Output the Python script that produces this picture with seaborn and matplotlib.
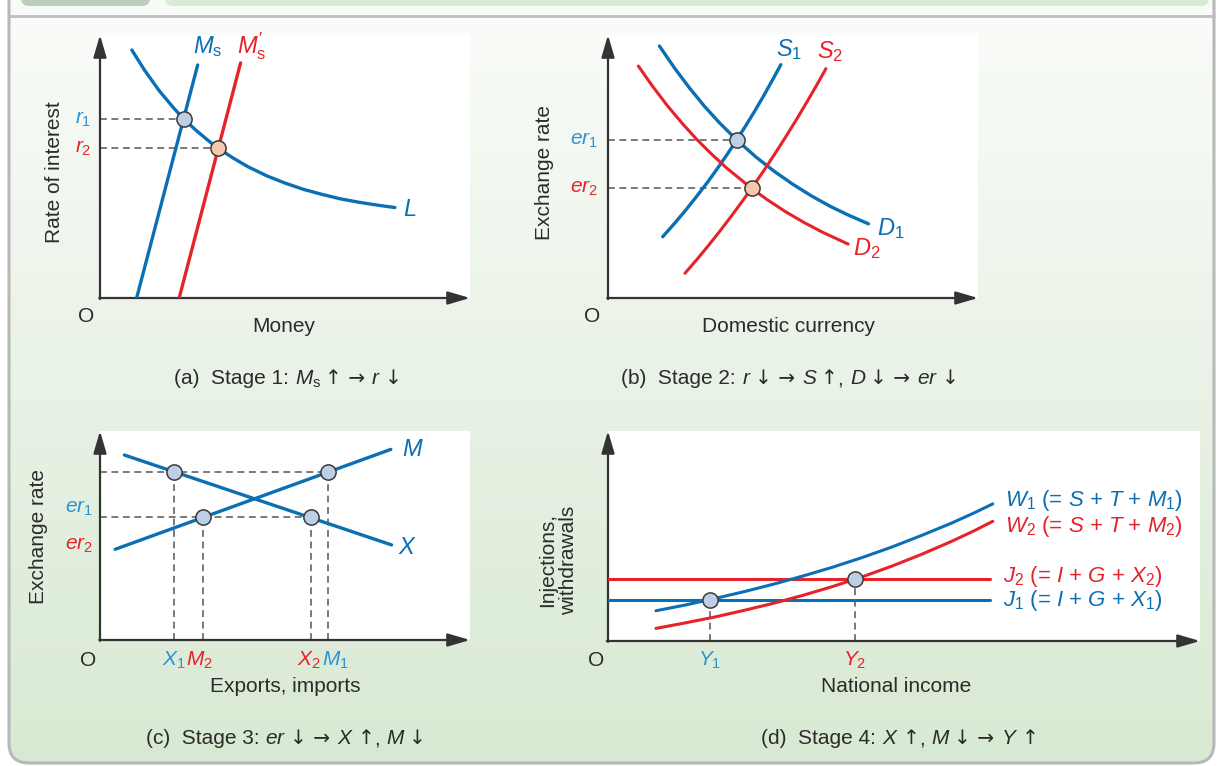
import numpy as np
import matplotlib
matplotlib.use("Agg")
import matplotlib.pyplot as plt
import seaborn as sns
from matplotlib.patches import FancyBboxPatch
from matplotlib.colors import to_rgb
from matplotlib.offsetbox import TextArea, HPacker, AnchoredOffsetbox

# ---------------- data ----------------
# (a) Stage 1: money market
a_L_x = [0.86, 1.20, 1.60, 2.00, 2.26, 2.60, 3.00, 3.20, 3.60, 4.00, 4.50, 5.00, 5.50, 6.00, 6.50, 7.00, 7.50, 7.97]
a_L_y = [9.43, 8.67, 7.88, 7.21, 6.81, 6.37, 5.90, 5.69, 5.32, 4.99, 4.65, 4.37, 4.13, 3.94, 3.77, 3.64, 3.53, 3.44]
a_Ms1_x = [0.99, 2.64]
a_Ms1_y = [0.00, 8.86]
a_Ms2_x = [2.14, 3.80]
a_Ms2_y = [0.00, 8.94]
a_eq_x = [2.26, 3.20]
a_eq_y = [6.81, 5.69]
a_tick_labels = ["$r_1$", "$r_2$"]

# (b) Stage 2: foreign exchange market
b_D1_x = [1.39, 1.80, 2.20, 2.60, 3.00, 3.48, 4.00, 4.50, 5.00, 5.50, 6.00, 6.50, 7.04]
b_D1_y = [9.58, 8.74, 7.99, 7.30, 6.68, 6.01, 5.36, 4.81, 4.32, 3.88, 3.49, 3.15, 2.82]
b_D2_x = [0.82, 1.20, 1.60, 2.00, 2.40, 2.80, 3.20, 3.88, 4.30, 4.80, 5.30, 5.80, 6.49]
b_D2_y = [8.82, 8.06, 7.32, 6.65, 6.03, 5.47, 4.95, 4.17, 3.74, 3.28, 2.87, 2.50, 2.05]
b_S1_x = [1.48, 1.80, 2.10, 2.40, 2.70, 3.00, 3.25, 3.48, 3.70, 3.95, 4.20, 4.45, 4.67]
b_S1_y = [2.33, 2.84, 3.34, 3.87, 4.42, 5.01, 5.52, 6.01, 6.50, 7.07, 7.67, 8.30, 8.87]
b_S2_x = [2.08, 2.40, 2.70, 3.00, 3.30, 3.60, 3.88, 4.20, 4.50, 4.80, 5.10, 5.40, 5.65, 5.89]
b_S2_y = [0.94, 1.46, 1.97, 2.50, 3.05, 3.62, 4.17, 4.82, 5.46, 6.12, 6.80, 7.51, 8.12, 8.72]
b_eq_x = [3.48, 3.88]
b_eq_y = [6.01, 4.17]
b_tick_labels = ["$er_1$", "$er_2$"]

# (c) Stage 3: exports and imports
c_X_x = [0.66, 7.88]
c_X_y = [8.85, 4.55]
c_M_x = [0.41, 7.86]
c_M_y = [4.34, 9.12]
c_pts_x = [2.01, 6.17, 2.78, 5.69]
c_pts_y = [8.03, 8.03, 5.87, 5.87]
c_er_labels = ["$er_1$", "$er_2$"]
c_er_label_y = [6.30, 4.55]
c_x_labels = ["$X_1$", "$M_2$", "$X_2$", "$M_1$"]
c_x_label_pos = [2.00, 2.69, 5.64, 6.36]

# (d) Stage 4: national income
d_W_x = [0.81, 1.30, 1.80, 2.30, 2.80, 3.30, 3.80, 4.30, 4.80, 5.30, 5.80, 6.20, 6.50]
d_W1_y = [1.44, 1.71, 2.02, 2.35, 2.71, 3.10, 3.52, 3.98, 4.48, 5.03, 5.61, 6.12, 6.53]
d_W2_y = [0.60, 0.86, 1.14, 1.46, 1.80, 2.18, 2.60, 3.06, 3.57, 4.13, 4.74, 5.27, 5.70]
d_J_x = [0.0, 6.45]
d_J1 = 1.97
d_J2 = 2.94
d_eq_x = [1.72, 4.17]
d_eq_y = [1.97, 2.94]
d_x_labels = ["$Y_1$", "$Y_2$"]

# captions: (text, kind) pieces; kind 'a' = arrow glyphs
TS = "\u2009"
cap_a = [("(a)  Stage 1: ", "t"), ("$M_{\\mathrm{s}}$", "t"), (TS + "\u2191 \u2192 ", "a"), ("$r$", "t"), (TS + "\u2193", "a")]
cap_b = [("(b)  Stage 2: ", "t"), ("$r$", "t"), (TS + "\u2193 \u2192 ", "a"), ("$S$", "t"), (TS + "\u2191", "a"),
         (", ", "t"), ("$D$", "t"), (TS + "\u2193 \u2192 ", "a"), ("$er$", "t"), (TS + "\u2193", "a")]
cap_c = [("(c)  Stage 3: ", "t"), ("$er$", "t"), (TS + "\u2193 \u2192 ", "a"), ("$X$", "t"), (TS + "\u2191", "a"),
         (", ", "t"), ("$M$", "t"), (TS + "\u2193", "a")]
cap_d = [("(d)  Stage 4: ", "t"), ("$X$", "t"), (TS + "\u2191", "a"), (", ", "t"), ("$M$", "t"),
         (TS + "\u2193 \u2192 ", "a"), ("$Y$", "t"), (TS + "\u2191", "a")]

# ---------------- style ----------------
sns.set_theme(style="white")
plt.rcParams['font.family'] = ['Liberation Sans', 'DejaVu Sans']
plt.rcParams.update({
    'mathtext.fontset': 'custom',
    'mathtext.rm': 'Liberation Sans',
    'mathtext.it': 'Liberation Sans:italic',
    'mathtext.bf': 'Liberation Sans:bold',
    'mathtext.sf': 'Liberation Sans',
})

BLUE = '#0b6fb3'
LBLUE = '#2d92d4'
RED = '#e6232a'
AXIS = '#333333'
DASH = '#555555'
PT_BLUE = '#bccfe6'
PT_RED = '#f6c7ad'
EDGE = '#3a3a3a'
TXT = '#2b2b2b'

W, H = 1218, 766
fig = plt.figure(figsize=(W / 100, H / 100), dpi=100)
fig.patch.set_facecolor('white')

# ---------------- background frame ----------------
bg = fig.add_axes([0, 0, 1, 1], zorder=-10)
bg.set_xlim(0, W)
bg.set_ylim(H, 0)
bg.axis('off')
top = np.array(to_rgb('#fafcf9'))
bot = np.array(to_rgb('#d8e9d3'))
t = np.linspace(0, 1, 256)[:, None, None]
grad = top * (1 - t) + bot * t
frame = FancyBboxPatch((9, -40), 1205, 803, boxstyle='round,pad=0,rounding_size=20',
                       fc='none', ec='#b8b8b8', lw=2.2, zorder=3)
bg.add_patch(frame)
im = bg.imshow(grad, extent=(0, W, H, 0), aspect='auto', zorder=0)
im.set_clip_path(frame)
bg.plot([9, 1214], [16, 16], color='#bdbdbd', lw=2.0, zorder=4)
bg.add_patch(FancyBboxPatch((21, -20), 129, 26, boxstyle='round,pad=0,rounding_size=8',
                            fc='#bccfbc', ec='none', zorder=4))
bg.add_patch(FancyBboxPatch((165, -20), 1044, 26, boxstyle='round,pad=0,rounding_size=8',
                            fc='#d8ebd5', ec='none', zorder=4))


def ftext(px, py, s, **kw):
    kw.setdefault('ha', 'center')
    kw.setdefault('va', 'center')
    return fig.text(px / W, 1 - py / H, s, **kw)


def caption(px, py, parts, fs):
    kids = []
    for s, kind in parts:
        props = dict(fontsize=fs, color=TXT)
        if kind == 'a':
            props['family'] = 'DejaVu Sans'
            props['fontsize'] = fs - 0.5
        kids.append(TextArea(s, textprops=props))
    box = HPacker(children=kids, align='baseline', pad=0, sep=0)
    ab = AnchoredOffsetbox(loc='center', child=box, pad=0, borderpad=0, frameon=False,
                           bbox_to_anchor=(px / W, 1 - py / H), bbox_transform=fig.transFigure)
    fig.add_artist(ab)


def make_panel(l, t_, r, b):
    ax = fig.add_axes([l / W, 1 - b / H, (r - l) / W, (b - t_) / H])
    ax.set_facecolor('white')
    for s in ax.spines.values():
        s.set_visible(False)
    ax.set_xticks([])
    ax.set_yticks([])
    ax.set_xlim(0, 10)
    ax.set_ylim(0, 10)
    ap = dict(arrowstyle='-|>,head_length=0.75,head_width=0.22', color=AXIS, lw=1.6,
              shrinkA=0, shrinkB=0, mutation_scale=18)
    ax.annotate('', xy=(0, 1), xytext=(0, -0.004), xycoords='axes fraction',
                arrowprops=ap, annotation_clip=False)
    ax.annotate('', xy=(1, 0), xytext=(-0.002, 0), xycoords='axes fraction',
                arrowprops=ap, annotation_clip=False)
    return ax


def line(ax, x, y, color, lw=2.4):
    sns.lineplot(x=x, y=y, ax=ax, color=color, lw=lw, sort=False, estimator=None,
                 legend=False, zorder=3)


def pts(ax, x, y, fc):
    sns.scatterplot(x=x, y=y, ax=ax, s=120, color=fc, edgecolor=EDGE, linewidth=1.1,
                    legend=False, zorder=6)


def hdash(ax, x, y):
    ax.plot([0, x], [y, y], color=DASH, lw=1.1, ls=(0, (4.5, 3)), zorder=2)


def vdash(ax, x, y):
    ax.plot([x, x], [0, y], color=DASH, lw=1.1, ls=(0, (4.5, 3)), zorder=2)


FS = 15
BIG = 17

# ---------------- (a) ----------------
ax = make_panel(100, 35, 470, 298)
for x, y in zip(a_eq_x, a_eq_y):
    hdash(ax, x, y)
line(ax, a_L_x, a_L_y, BLUE)
line(ax, a_Ms1_x, a_Ms1_y, BLUE)
line(ax, a_Ms2_x, a_Ms2_y, RED)
pts(ax, [a_eq_x[0]], [a_eq_y[0]], PT_BLUE)
pts(ax, [a_eq_x[1]], [a_eq_y[1]], PT_RED)
ax.text(2.51, 9.56, "$M_{\\mathrm{s}}$", color=BLUE, fontsize=BIG, ha='left', va='center')
ax.text(3.69, 9.56, "$M_{\\mathrm{s}}^{\\prime}$", color=RED, fontsize=BIG, ha='left', va='center')
ax.text(8.18, 3.35, "$L$", color=BLUE, fontsize=BIG, ha='left', va='center')
for lab, y, c in zip(a_tick_labels, a_eq_y, [LBLUE, RED]):
    ax.annotate(lab, xy=(0, y), xytext=(-6, 0), textcoords='offset points',
                ha='right', va='center', color=c, fontsize=FS, annotation_clip=False)
ftext(55, 172, "Rate of interest", rotation=90, fontsize=FS, color=TXT)
ftext(284, 326, "Money", fontsize=FS, color=TXT)
ftext(86, 316, "O", fontsize=FS, color=TXT)

# ---------------- (b) ----------------
ax = make_panel(608, 35, 978, 298)
for x, y in zip(b_eq_x, b_eq_y):
    hdash(ax, x, y)
line(ax, b_D1_x, b_D1_y, BLUE)
line(ax, b_S1_x, b_S1_y, BLUE)
line(ax, b_D2_x, b_D2_y, RED, lw=2.2)
line(ax, b_S2_x, b_S2_y, RED, lw=2.2)
pts(ax, [b_eq_x[0]], [b_eq_y[0]], PT_BLUE)
pts(ax, [b_eq_x[1]], [b_eq_y[1]], PT_RED)
ax.text(4.54, 9.43, "$S_1$", color=BLUE, fontsize=BIG, ha='left', va='center')
ax.text(5.64, 9.37, "$S_2$", color=RED, fontsize=BIG, ha='left', va='center')
ax.text(7.26, 2.65, "$D_1$", color=BLUE, fontsize=BIG, ha='left', va='center')
ax.text(6.63, 1.89, "$D_2$", color=RED, fontsize=BIG, ha='left', va='center')
for lab, y, c in zip(b_tick_labels, b_eq_y, [LBLUE, RED]):
    ax.annotate(lab, xy=(0, y), xytext=(-7, 0), textcoords='offset points',
                ha='right', va='center', color=c, fontsize=FS, annotation_clip=False)
ftext(545, 172, "Exchange rate", rotation=90, fontsize=FS, color=TXT)
ftext(788, 326, "Domestic currency", fontsize=FS, color=TXT)
ftext(592, 316, "O", fontsize=FS, color=TXT)

# ---------------- (c) ----------------
ax = make_panel(100, 431, 470, 640)
hdash(ax, c_pts_x[1], c_pts_y[1])
hdash(ax, c_pts_x[3], c_pts_y[3])
for x, y in zip(c_pts_x, c_pts_y):
    vdash(ax, x, y)
line(ax, c_X_x, c_X_y, BLUE)
line(ax, c_M_x, c_M_y, BLUE)
pts(ax, c_pts_x, c_pts_y, PT_BLUE)
ax.text(8.15, 9.09, "$M$", color=BLUE, fontsize=BIG, ha='left', va='center')
ax.text(8.06, 4.39, "$X$", color=BLUE, fontsize=BIG, ha='left', va='center')
for lab, y, c in zip(c_er_labels, c_er_label_y, [LBLUE, RED]):
    ax.annotate(lab, xy=(0, y), xytext=(-5, 0), textcoords='offset points',
                ha='right', va='center', color=c, fontsize=FS, annotation_clip=False)
for lab, x, c in zip(c_x_labels, c_x_label_pos, [LBLUE, RED, RED, LBLUE]):
    ax.annotate(lab, xy=(x, 0), xytext=(0, -14.5), textcoords='offset points',
                ha='center', va='center', color=c, fontsize=FS, annotation_clip=False)
ftext(39, 536, "Exchange rate", rotation=90, fontsize=FS, color=TXT)
ftext(285, 687, "Exports, imports", fontsize=FS, color=TXT)
ftext(88, 660, "O", fontsize=FS, color=TXT)

# ---------------- (d) ----------------
ax = make_panel(608, 431, 1200, 641)
for x, y in zip(d_eq_x, d_eq_y):
    vdash(ax, x, y)
line(ax, d_J_x, [d_J2, d_J2], RED, lw=2.2)
line(ax, d_J_x, [d_J1, d_J1], BLUE, lw=2.2)
line(ax, d_W_x, d_W2_y, RED, lw=2.2)
line(ax, d_W_x, d_W1_y, BLUE, lw=2.2)
pts(ax, d_eq_x, d_eq_y, PT_BLUE)
DL = 16
ax.text(6.71, 6.71, "$W_1$ (= $S$ + $T$ + $M_1$)", color=BLUE, fontsize=DL, ha='left', va='center')
ax.text(6.71, 5.44, "$W_2$ (= $S$ + $T$ + $M_2$)", color=RED, fontsize=DL, ha='left', va='center')
ax.text(6.68, 3.06, "$J_2$ (= $I$ + $G$ + $X_2$)", color=RED, fontsize=DL, ha='left', va='center')
ax.text(6.68, 1.95, "$J_1$ (= $I$ + $G$ + $X_1$)", color=BLUE, fontsize=DL, ha='left', va='center')
for lab, x, c in zip(d_x_labels, d_eq_x, [LBLUE, RED]):
    ax.annotate(lab, xy=(x, 0), xytext=(0, -14), textcoords='offset points',
                ha='center', va='center', color=c, fontsize=FS, annotation_clip=False)
ftext(558, 560, "Injections,\nwithdrawals", rotation=90, fontsize=FS, color=TXT,
      multialignment='center', linespacing=1.1)
ftext(896, 687, "National income", fontsize=FS, color=TXT)
ftext(596, 660, "O", fontsize=FS, color=TXT)

# ---------------- captions ----------------
caption(288, 379, cap_a, FS)
caption(790, 379, cap_b, FS)
caption(286, 739, cap_c, FS)
caption(900, 739, cap_d, FS)

fig.savefig("out.png", dpi=100, facecolor=fig.get_facecolor())
